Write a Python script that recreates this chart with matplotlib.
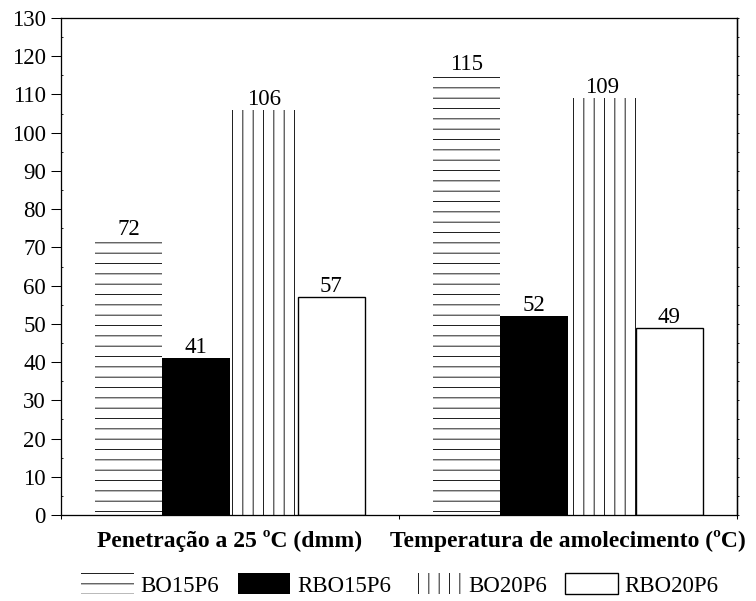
import matplotlib
matplotlib.use("Agg")
import matplotlib.pyplot as plt
import numpy as np

categories = ["Penetração a 25 ºC (dmm)", "Temperatura de amolecimento (ºC)"]
series = ["BO15P6", "RBO15P6", "BO20P6", "RBO20P6"]
BO15P6 = [72, 115]
RBO15P6 = [41, 52]
BO20P6 = [106, 109]
RBO20P6 = [57, 49]
values = [BO15P6, RBO15P6, BO20P6, RBO20P6]

DPI = 62
plt.rcParams['font.family'] = ['Liberation Serif', 'DejaVu Serif']
plt.rcParams['hatch.linewidth'] = 1.0
plt.rcParams['hatch.color'] = 'black'

fig = plt.figure(figsize=(756 / DPI, 601 / DPI), dpi=DPI)
ax = fig.add_axes([61 / 756, 1 - 515 / 601, (737 - 61) / 756, (515 - 18) / 601])

FS = 26.5
FSB = 27.5
x = np.arange(len(categories))
w = 0.2
styles = [
    dict(color='white', edgecolor='black', hatch='-', linewidth=0),
    dict(color='black', edgecolor='black', linewidth=0),
    dict(color='white', edgecolor='black', hatch='|', linewidth=0),
    dict(color='white', edgecolor='black', linewidth=1.6),
]
for i, (name, vals, st) in enumerate(zip(series, values, styles)):
    bars = ax.bar(x + (i - 1.5) * w, vals, w, label=name, **st)
    ax.bar_label(bars, padding=0, fontsize=FS)

ax.set_xlim(-0.5, 1.5)
ax.set_ylim(0, 130)
ax.set_yticks(np.arange(0, 131, 10))
ax.set_yticks(np.arange(5, 130, 10), minor=True)
ax.tick_params(axis='y', which='major', direction='out', length=11.5, width=1.2, labelsize=FS, pad=6)
ax.tick_params(axis='y', which='minor', direction='in', length=2.5, width=1.0)

ax.set_xticks(x)
ax.set_xticklabels(categories, fontsize=FSB, fontweight='bold')
ax.set_xticks([-0.5, 0.5, 1.5], minor=True)
ax.tick_params(axis='x', which='major', length=0, pad=17)
ax.tick_params(axis='x', which='minor', direction='out', length=5, width=1.2)

for s in ax.spines.values():
    s.set_linewidth(1.5)

sec = ax.secondary_yaxis('right')
sec.set_yticks(np.arange(0, 131, 5))
sec.set_yticklabels([])
sec.tick_params(direction='out', length=2.5, width=1.0)
sec.spines['right'].set_linewidth(1.5)

fig.legend(loc='center', bbox_to_anchor=(400 / 756, 1 - 585 / 601), ncol=4, frameon=False,
           fontsize=FS, handlelength=2.3, handleheight=1.0, handletextpad=0.3,
           columnspacing=0.8, borderaxespad=0)

fig.savefig("out.png", dpi=DPI)
